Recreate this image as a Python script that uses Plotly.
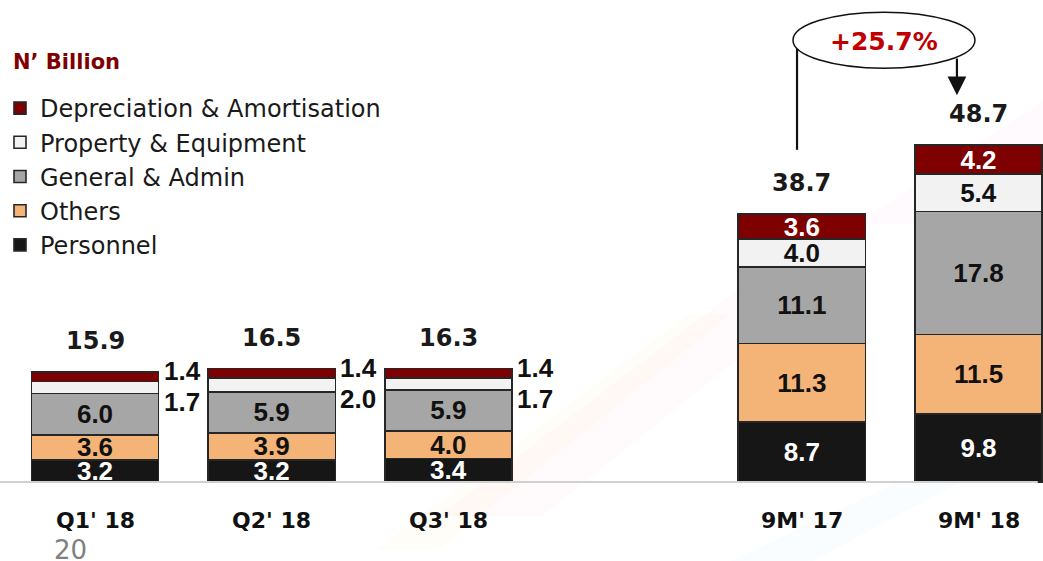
import plotly.graph_objects as go

# Operating expenses by component, N' Billion
categories = ["Q1' 18", "Q2' 18", "Q3' 18", "9M' 17", "9M' 18"]
personnel = [3.2, 3.2, 3.4, 8.7, 9.8]
others = [3.6, 3.9, 4.0, 11.3, 11.5]
general_admin = [6.0, 5.9, 5.9, 11.1, 17.8]
property_equipment = [1.7, 2.0, 1.7, 4.0, 5.4]
depreciation = [1.4, 1.4, 1.4, 3.6, 4.2]
totals = [15.9, 16.5, 16.3, 38.7, 48.7]
growth_label = "+25.7%"

# quarterly bars first, then a spacer slot before the nine-month comparison
n_quarters = 3
xpos = [i + (1 if i >= n_quarters else 0) for i in range(len(categories))]
bar_width = 0.72

series = [
    ("Personnel", personnel, "#161616", "white", True),
    ("Others", others, "#F4B478", "#111111", True),
    ("General & Admin", general_admin, "#A6A6A6", "#111111", True),
    ("Property & Equipment", property_equipment, "#F2F2F2", "#111111", False),
    ("Depreciation & Amortisation", depreciation, "#7F0000", "white", False),
]

LABEL_FONT = "Liberation Sans"
MAIN_FONT = "DejaVu Sans"

fig = go.Figure()
for name, vals, color, txtcolor, inside_all in series:
    # small quarterly segments are labelled beside the bar instead
    texts = [f"{v:.1f}" if (inside_all or i >= n_quarters) else "" for i, v in enumerate(vals)]
    fig.add_trace(go.Bar(
        x=xpos, y=vals, name=name, width=bar_width,
        marker=dict(color=color, line=dict(color="#262626", width=1.6)),
        text=texts, textposition="inside", insidetextanchor="middle",
        textangle=0,
        textfont=dict(family=LABEL_FONT, size=26, color=txtcolor, weight="bold"),
        hoverinfo="skip",
    ))

annotations = []
stack_tops = [sum(s[1][i] for s in series) for i in range(len(categories))]

# totals above each bar
for x, top, tot in zip(xpos, stack_tops, totals):
    annotations.append(dict(
        x=x, y=top, text=f"{tot:.1f}", showarrow=False, yanchor="middle", yshift=31,
        font=dict(family=MAIN_FONT, size=24, color="#1a1a1a", weight="bold"),
    ))

# outside labels for the thin quarterly segments
for i in range(n_quarters):
    top = stack_tops[i]
    for vals, shift in ((depreciation, 1), (property_equipment, -30)):
        annotations.append(dict(
            x=xpos[i] + bar_width / 2, y=top, text=f"{vals[i]:.1f}", showarrow=False,
            xanchor="left", yanchor="middle", xshift=3, yshift=shift,
            font=dict(family=LABEL_FONT, size=26, color="#111111", weight="bold"),
        ))

# category labels under the baseline
for x, cat in zip(xpos, categories):
    annotations.append(dict(
        x=x, y=0, text=cat, showarrow=False, yanchor="middle", yshift=-38,
        font=dict(family=MAIN_FONT, size=22, color="#111111", weight="bold"),
    ))

# unit caption and page number
annotations.append(dict(
    x=0.011, y=1 - 62 / 561, xref="paper", yref="paper", text="N’ Billion",
    showarrow=False, xanchor="left", yanchor="middle",
    font=dict(family=MAIN_FONT, size=21, color="#7F0000", weight="bold"),
))
annotations.append(dict(
    x=0.05, y=1 - 550 / 561, xref="paper", yref="paper", text="20",
    showarrow=False, xanchor="left", yanchor="middle",
    font=dict(family=MAIN_FONT, size=26, color="#808080"),
))

# growth callout between the nine-month bars
ell_x0, ell_x1 = 3.95, 4.98
ell_y0, ell_y1 = 59.8, 67.9
ell_cx, ell_cy = (ell_x0 + ell_x1) / 2, (ell_y0 + ell_y1) / 2
annotations.append(dict(
    x=ell_cx, y=ell_cy, text=growth_label, showarrow=False, yshift=-1,
    font=dict(family=MAIN_FONT, size=25, color="#C00000", weight="bold"),
))
arrow_x = 4.878
annotations.append(dict(
    x=arrow_x, y=totals[4] + 7.2, ax=arrow_x, ay=61.4, axref="x", ayref="y",
    text="", showarrow=True, arrowhead=2, arrowsize=1.7, arrowwidth=2.2, arrowcolor="#111111",
))

shapes = [
    # baseline
    dict(type="line", xref="paper", x0=0, x1=0.995, y0=0, y1=0,
         line=dict(color="#D0D0D0", width=2), layer="above"),
    dict(type="circle", x0=ell_x0, x1=ell_x1, y0=ell_y0, y1=ell_y1,
         line=dict(color="#111111", width=1.5), fillcolor="white", layer="below"),
    dict(type="line", x0=3.973, x1=3.973, y0=totals[3] + 9.3, y1=ell_y0 + 2.8,
         line=dict(color="#111111", width=2.2)),
]

# faint decorative streaks in the background
streaks = [
    ("M 0.42 0.08 L 0.72 0.50 L 0.80 0.50 L 0.52 0.08 Z", "rgba(255,170,200,0.06)"),
    ("M 0.36 0.02 L 0.66 0.44 L 0.70 0.44 L 0.42 0.02 Z", "rgba(255,230,150,0.07)"),
    ("M 0.70 0.0 L 0.86 0.14 L 0.92 0.14 L 0.78 0.0 Z", "rgba(180,220,255,0.07)"),
    ("M 0.82 0.60 L 1.0 0.82 L 1.0 0.74 L 0.88 0.60 Z", "rgba(255,170,220,0.06)"),
]
for path, col in streaks:
    shapes.append(dict(type="path", xref="paper", yref="paper", path=path,
                       fillcolor=col, line=dict(width=0), layer="below"))

fig.update_layout(
    barmode="stack",
    width=1043, height=561,
    margin=dict(l=0, r=0, t=0, b=0),
    paper_bgcolor="white", plot_bgcolor="rgba(0,0,0,0)",
    showlegend=True,
    legend=dict(
        x=0.0, y=1 - 86 / 561, xanchor="left", yanchor="top",
        traceorder="reversed", bgcolor="rgba(0,0,0,0)",
        font=dict(family=MAIN_FONT, size=24, color="#1a1a1a"),
        itemclick=False, itemdoubleclick=False,
    ),
    xaxis=dict(range=[-95 / 176.7, (1043 - 95) / 176.7], visible=False, fixedrange=True),
    yaxis=dict(range=[-(561 - 482) / 6.92, 482 / 6.92], visible=False, fixedrange=True),
    uniformtext=dict(mode="show", minsize=26),
    annotations=annotations,
    shapes=shapes,
)

fig.write_html("out.html")
